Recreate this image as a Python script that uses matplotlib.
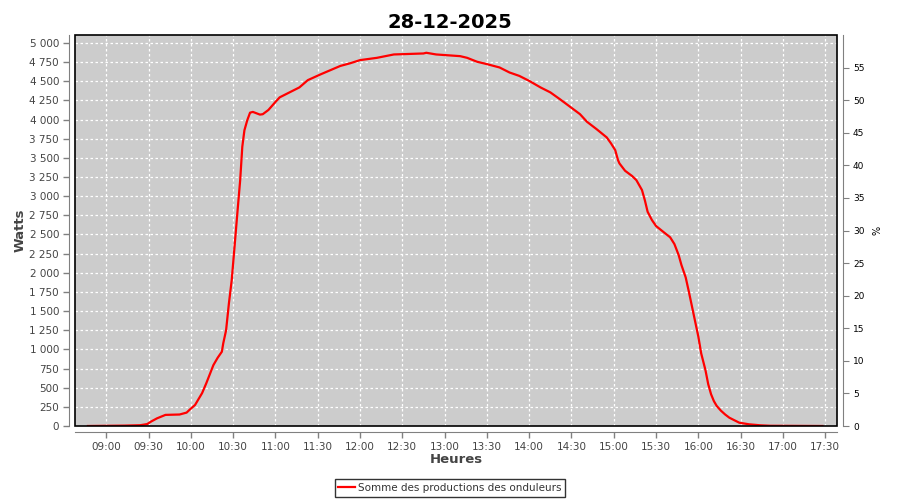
import matplotlib
matplotlib.use('Agg')
import matplotlib.pyplot as plt
import matplotlib.dates as mdates
from matplotlib.patches import Rectangle
from matplotlib.ticker import FuncFormatter, MultipleLocator
import pandas as pd

title = '28-12-2025'
series_name = 'Somme des productions des onduleurs'

times = ['08:47', '09:13', '09:24', '09:29', '09:32', '09:36', '09:42', '09:52', '09:57',
         '09:59', '10:03', '10:08', '10:11', '10:16', '10:19', '10:22', '10:23', '10:25',
         '10:27', '10:29', '10:31', '10:33', '10:35', '10:36:30', '10:38', '10:40', '10:42',
         '10:44', '10:49', '10:51', '10:55', '11:00', '11:03', '11:10', '11:17', '11:23',
         '11:32', '11:46', '11:53', '12:00', '12:12', '12:24', '12:45', '12:47', '12:54',
         '13:11', '13:16', '13:23', '13:30', '13:39', '13:46', '13:53', '14:00', '14:08',
         '14:15', '14:22', '14:29', '14:36', '14:41', '14:48', '14:55', '14:58', '15:01',
         '15:03', '15:04', '15:08', '15:13', '15:16', '15:20', '15:22', '15:24', '15:27',
         '15:30', '15:35', '15:40', '15:43', '15:46', '15:48', '15:51', '15:53', '15:55',
         '15:57:30', '16:00', '16:02', '16:05', '16:07', '16:09', '16:11', '16:13', '16:16',
         '16:19', '16:22', '16:29', '16:36', '16:44', '16:51', '17:28']
watts = [0, 5, 10, 25, 60, 100, 145, 150, 175,
         210, 275, 430, 560, 795, 890, 970, 1080, 1250,
         1600, 1905, 2340, 2780, 3210, 3645, 3860, 3990, 4090,
         4100, 4065, 4070, 4125, 4230, 4290, 4355, 4420, 4515,
         4590, 4700, 4735, 4776, 4806, 4850, 4863, 4872, 4850,
         4828, 4806, 4755, 4724, 4680, 4615, 4570, 4505, 4420,
         4355, 4263, 4167, 4071, 3971, 3872, 3767, 3690, 3602,
         3471, 3428, 3332, 3263, 3210, 3080, 2950, 2797, 2690,
         2610, 2536, 2463, 2375, 2232, 2101, 1940, 1775, 1601,
         1383, 1165, 948, 731, 545, 415, 325, 262, 200,
         150, 108, 43, 22, 9, 3, 0]

x = pd.to_datetime(['2025-12-28 ' + (t if t.count(':') == 2 else t + ':00') for t in times])

fig = plt.figure(figsize=(9, 5), dpi=100)
ax = fig.add_axes([75 / 900, 1 - 426 / 500, 762 / 900, 391 / 500])
ax.set_facecolor('#cccccc')

ax.plot(x, watts, color='#ff0000', linewidth=1.6, label=series_name, zorder=3)

ax.set_xlim(pd.Timestamp('2025-12-28 08:37:50'), pd.Timestamp('2025-12-28 17:38:20'))
ax.set_ylim(0, 5104)
ax.yaxis.set_major_locator(MultipleLocator(250))
ax.yaxis.set_major_formatter(FuncFormatter(lambda v, p: f'{int(v):,}'.replace(',', ' ')))
ax.xaxis.set_major_locator(mdates.MinuteLocator(byminute=[0, 30]))
ax.xaxis.set_major_formatter(mdates.DateFormatter('%H:%M'))

ax.grid(True, color='white', linestyle=(0, (2, 2)), linewidth=0.9)
ax.set_axisbelow(True)

gray = '#808080'
for side in ['top', 'right']:
    ax.spines[side].set_visible(False)
for side in ['left', 'bottom']:
    ax.spines[side].set_position(('outward', 4))
    ax.spines[side].set_color(gray)
ax.tick_params(axis='both', direction='out', length=4, color=gray, labelsize=7.5,
               labelcolor='#444444', width=1)

ax.add_patch(Rectangle((0, 0), 1, 1, transform=ax.transAxes, fill=False,
                       edgecolor='black', linewidth=1.2, clip_on=False, zorder=5))

ax2 = ax.twinx()
ax2.set_ylim(0, 60)
ax2.set_yticks(range(0, 60, 5))
for side in ['top', 'left', 'bottom']:
    ax2.spines[side].set_visible(False)
ax2.spines['right'].set_position(('outward', 4))
ax2.spines['right'].set_color(gray)
ax2.tick_params(axis='y', direction='out', length=4, color=gray, labelsize=6.5,
                labelcolor='black')
ax2.set_ylabel('%', fontsize=7, rotation=90, labelpad=6)

ax.set_ylabel('Watts', fontsize=9.5, fontweight='bold', color='#444444', labelpad=2)
ax.set_xlabel('Heures', fontsize=9.5, fontweight='bold', color='#444444', labelpad=1)
fig.suptitle(title, fontsize=14, fontweight='bold', y=0.975)

leg = fig.legend(loc='center', bbox_to_anchor=(450 / 900, 1 - 488 / 500), fontsize=7.5,
                 frameon=True, fancybox=False, handlelength=1.6, handletextpad=0.3,
                 borderpad=0.35, borderaxespad=0)
leg.get_frame().set_edgecolor('black')
leg.get_frame().set_linewidth(1)
for t in leg.get_texts():
    t.set_color('#333333')

fig.savefig('out.png', dpi=100)
